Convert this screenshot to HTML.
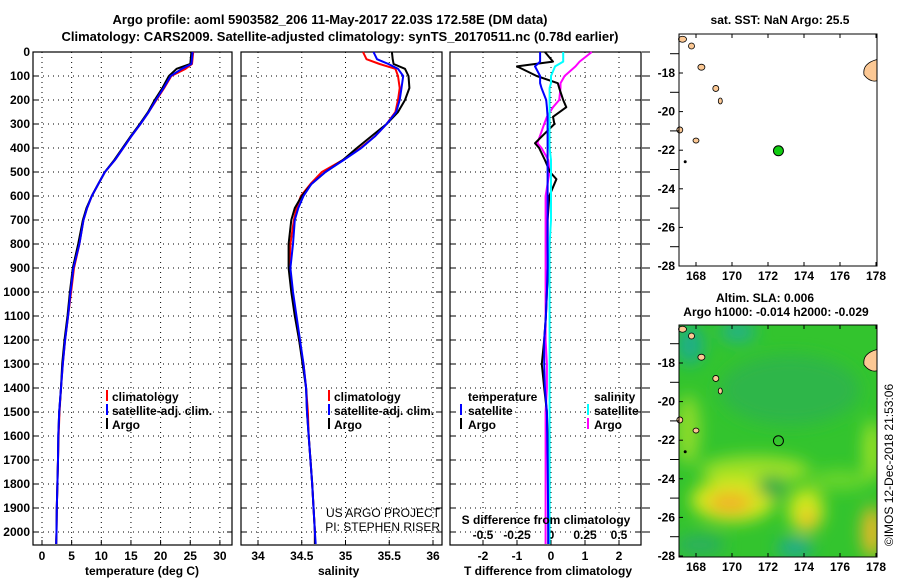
<!DOCTYPE html>
<html><head><meta charset="utf-8"><style>
body{margin:0;background:#fff;width:900px;height:580px;overflow:hidden}
svg{display:block;font-family:"Liberation Sans",sans-serif}
.b{font-weight:bold;font-size:12px}
.t{font-weight:bold;font-size:13px}
</style></head><body>
<svg id="chart" width="900" height="580" viewBox="0 0 900 580">
<defs>
<filter id="blur" x="-20%" y="-20%" width="140%" height="140%"><feGaussianBlur stdDeviation="8"/></filter>
<clipPath id="clipSla"><rect x="679" y="325" width="198" height="232"/></clipPath>
</defs>
<text class="t" x="330" y="24" text-anchor="middle">Argo profile: aoml 5903582_206 11-May-2017 22.03S 172.58E (DM data)</text>
<text class="t" x="340" y="41" text-anchor="middle">Climatology: CARS2009. Satellite-adjusted climatology: synTS_20170511.nc (0.78d earlier)</text>
<g id="grids"></g>
<g id="series"></g>
<g id="legends">
 <g>
  <rect x="106" y="390" width="2" height="11" fill="#f00"/><text class="b" x="112" y="401">climatology</text>
  <rect x="106" y="404" width="2" height="11" fill="#00f"/><text class="b" x="112" y="415">satellite-adj. clim.</text>
  <rect x="106" y="418" width="2" height="11" fill="#000"/><text class="b" x="112" y="429">Argo</text>
 </g>
 <g>
  <rect x="328" y="390" width="2" height="11" fill="#f00"/><text class="b" x="334" y="401">climatology</text>
  <rect x="328" y="404" width="2" height="11" fill="#00f"/><text class="b" x="334" y="415">satellite-adj. clim.</text>
  <rect x="328" y="418" width="2" height="11" fill="#000"/><text class="b" x="334" y="429">Argo</text>
 </g>
 <g>
  <text class="b" x="468" y="401">temperature</text>
  <rect x="460" y="404" width="2" height="11" fill="#00f"/><text class="b" x="468" y="415">satellite</text>
  <rect x="460" y="418" width="2" height="11" fill="#000"/><text class="b" x="468" y="429">Argo</text>
  <text class="b" x="594" y="401">salinity</text>
  <rect x="587" y="404" width="2" height="11" fill="#0ff"/><text class="b" x="594" y="415">satellite</text>
  <rect x="587" y="418" width="2" height="11" fill="#f0f"/><text class="b" x="594" y="429">Argo</text>
 </g>
 <text x="440" y="517" font-size="12" text-anchor="end">US ARGO PROJECT</text>
 <text x="440" y="531" font-size="12" text-anchor="end">PI: STEPHEN RISER</text>
 <text class="b" x="546" y="524" text-anchor="middle">S difference from climatology</text>
 <text class="b" x="85" y="575">temperature (deg C)</text>
 <text class="b" x="318" y="575">salinity</text>
 <text class="b" x="548" y="575" text-anchor="middle">T difference from climatology</text>
</g>
<g id="maps"></g>
</svg>
<script>
const NS='http://www.w3.org/2000/svg';
const svg=document.getElementById('chart');
function el(tag,attrs,parent,txt){const e=document.createElementNS(NS,tag);for(const k in attrs)e.setAttribute(k,attrs[k]);if(txt!==undefined)e.textContent=txt;(parent||svg).appendChild(e);return e;}

// ---------- data ----------
const depthTicks=[0,100,200,300,400,500,600,700,800,900,1000,1100,1200,1300,1400,1500,1600,1700,1800,1900,2000];
const tempTicks=[0,5,10,15,20,25,30];
const salTicks=[34,34.5,35,35.5,36];
const tdiffTicks=[-2,-1,0,1,2];
const sdiffTicks=[-0.5,-0.25,0,0.25,0.5];
const sdiffTickLabels=['-0.5','-0.25','0','0.25','0.5'];

const tDepth=[0,50,70,100,150,200,250,300,350,400,450,500,550,600,650,700,800,900,1000,1100,1200,1300,1400,1500,1600,1700,1800,1900,2000,2050];
const tArgo=[25.2,25.0,22.7,21.4,20.3,19.0,17.9,16.5,15.0,13.6,12.2,10.6,9.5,8.4,7.5,6.9,6.1,5.2,4.7,4.3,3.8,3.4,3.2,2.9,2.75,2.7,2.6,2.5,2.45,2.4];
const tClim=[25.5,25.3,24.2,21.8,20.6,19.3,18.0,16.6,15.1,13.7,12.3,10.6,9.5,8.4,7.6,7.0,6.3,5.4,4.9,4.4,3.9,3.5,3.2,2.95,2.8,2.7,2.6,2.5,2.45,2.4];
const tSat=[25.4,25.2,23.6,21.7,20.5,19.2,18.0,16.6,15.1,13.7,12.3,10.6,9.5,8.4,7.6,7.0,6.3,5.3,4.8,4.4,3.9,3.5,3.2,2.9,2.75,2.7,2.6,2.5,2.45,2.4];

const sDepth=[0,30,50,70,100,150,200,250,300,350,400,450,500,550,600,650,700,800,900,1000,1100,1200,1300,1400,1500,1600,1800,2000,2050];
const sArgo=[35.53,35.54,35.55,35.68,35.72,35.73,35.68,35.60,35.47,35.30,35.13,34.97,34.77,34.61,34.50,34.42,34.38,34.35,34.35,34.38,34.42,34.47,34.51,34.55,34.56,34.58,34.62,34.65,34.65];
const sClim=[35.20,35.24,35.39,35.57,35.60,35.62,35.60,35.57,35.47,35.34,35.17,34.97,34.73,34.60,34.49,34.44,34.41,34.37,34.36,34.39,34.43,34.47,34.52,34.55,34.57,34.58,34.62,34.65,34.65];
const sSat=[35.32,35.36,35.49,35.60,35.66,35.64,35.62,35.58,35.47,35.34,35.18,34.98,34.77,34.61,34.52,34.46,34.42,34.40,34.37,34.40,34.44,34.48,34.52,34.55,34.56,34.58,34.62,34.65,34.66];

const dDepth=[0,40,60,100,130,150,200,230,270,300,380,400,450,500,530,600,700,800,900,1000,1100,1200,1300,1400,1500,1700,2000,2050];
const dTArgo=[-0.18,0.06,-1.0,-0.42,0.2,0.24,0.36,0.45,0.06,0.1,-0.47,-0.35,-0.18,-0.03,0.16,-0.05,-0.1,-0.1,-0.08,-0.12,-0.15,-0.2,-0.27,-0.2,-0.12,-0.08,-0.08,-0.08];
const dTSat=[-0.32,-0.32,-0.47,-0.32,-0.32,-0.28,-0.14,-0.12,-0.1,-0.1,-0.1,-0.1,-0.1,-0.1,-0.1,-0.1,-0.1,-0.1,-0.1,-0.12,-0.15,-0.2,-0.2,-0.18,-0.12,-0.1,-0.08,-0.08];
const dSSat=[0.09,0.09,0.03,0.0,0.0,-0.01,-0.01,-0.01,-0.01,-0.01,-0.01,-0.01,0.0,0.0,0.0,0.0,0.0,-0.01,-0.01,-0.01,-0.01,-0.01,-0.01,-0.01,-0.01,-0.01,-0.01,-0.01];
const dSArgo=[0.30,0.21,0.18,0.10,0.07,0.07,0.06,0.015,-0.03,-0.05,-0.1,-0.07,-0.02,-0.01,-0.02,-0.04,-0.04,-0.04,-0.04,-0.04,-0.04,-0.04,-0.03,-0.03,-0.04,-0.04,-0.04,-0.04];

// ---------- axes ----------
const yD=d=>52+d*0.24;
const xT=t=>42+t*5.93;
const xS=s=>258+(s-34)*87.5;
const xdT=t=>551+t*34;
const xdS=s=>551+s*136;
const panels=[{x0:33,x1:232,ticks:tempTicks,fx:xT,name:'temperature'},{x0:241,x1:442,ticks:salTicks,fx:xS,name:'salinity'},{x0:450,x1:641,ticks:tdiffTicks,fx:xdT,name:'difference'}];
const top0=52,bot=545;
const g=document.getElementById('grids');
panels.forEach((p,pi)=>{
  const pg=el('g',{},g);
  
  
  depthTicks.forEach(d=>{el('line',{x1:p.x0,x2:p.x1,y1:yD(d),y2:yD(d),stroke:'#000','stroke-width':1,'stroke-dasharray':'1 4'},pg);
    el('line',{x1:p.x0,x2:p.x0+5,y1:yD(d),y2:yD(d),stroke:'#000'},pg);el('line',{x1:p.x1-5,x2:p.x1,y1:yD(d),y2:yD(d),stroke:'#000'},pg);});
  p.ticks.forEach((t,i)=>{const x=p.fx(t);el('line',{x1:x,x2:x,y1:top0,y2:bot,stroke:'#000','stroke-dasharray':'1 4'},pg);
    el('line',{x1:x,x2:x,y1:bot,y2:bot-5,stroke:'#000'},pg);
    const lab=el('text',{class:'b',x:x,y:560,'text-anchor':'middle'},pg,String(t));
    
    });
  el('rect',{x:p.x0,y:top0,width:p.x1-p.x0,height:bot-top0,fill:'none',stroke:'#000','stroke-width':1.2},pg);
});
depthTicks.forEach(d=>{const t=el('text',{class:'b',x:30,y:yD(d)+4,'text-anchor':'end'},g,String(d));
  
  
  el('line',{x1:642,x2:650,y1:yD(d),y2:yD(d),stroke:'#000'},g);});
sdiffTicks.forEach((s,i)=>{const t=el('text',{class:'b',x:xdS(s),y:539,'text-anchor':'middle'},g,sdiffTickLabels[i]);
  
  });

// ---------- series ----------
const sg=document.getElementById('series');
function line(xs,ds,fx,color,name){
  const pts=xs.map((v,i)=>fx(v).toFixed(1)+','+yD(ds[i]).toFixed(1)).join(' ');
  const pl=el('polyline',{points:pts,fill:'none',stroke:color,'stroke-width':2,'stroke-linejoin':'round'},sg);
  
  
}
line(tClim,tDepth,xT,'#f00','temp-climatology-line');
line(tArgo,tDepth,xT,'#000','temp-argo-line');
line(tSat,tDepth,xT,'#00f','temp-satellite-line');
line(sClim,sDepth,xS,'#f00','sal-climatology-line');
line(sArgo,sDepth,xS,'#000','sal-argo-line');
line(sSat,sDepth,xS,'#00f','sal-satellite-line');
line(dSArgo,dDepth,xdS,'#f0f','s-diff-argo-line');
line(dTArgo,dDepth,xdT,'#000','t-diff-argo-line');
line(dSSat,dDepth,xdS,'#0ff','s-diff-satellite-line');
line(dTSat,dDepth,xdT,'#00f','t-diff-satellite-line');

// ---------- maps ----------
const lonTicks=[168,170,172,174,176,178];
const latTicks=[-18,-20,-22,-24,-26,-28];
const mg=document.getElementById('maps');
const lonX=l=>696+(l-168)*18;
function drawMap(y18,top,bottom,name,sla){
  const m=el('g',{},mg);
  
  
  const latY=l=>y18+(-18-l)*19.3;
  if(sla){
    const h=el('g',{'clip-path':'url(#clipSla)'},m);
    el('rect',{x:679,y:top,width:198,height:bottom-top,fill:'#33c42e'},h);
    const bl=el('g',{filter:'url(#blur)'},h);
    [[790,390,70,35,'#2eb64a'],[690,345,14,20,'#1fae88'],[738,332,18,10,'#22b08c'],[795,548,18,10,'#22aa90'],[700,545,25,10,'#2aae60'],
     [688,430,12,35,'#8edc2a'],[755,470,55,14,'#9ee026'],[733,500,42,22,'#d6e81e'],[730,503,22,11,'#f0b426'],
     [806,510,18,22,'#cde81e'],[808,520,9,10,'#f0c02a'],[872,532,10,26,'#f0b828'],[872,450,8,30,'#a8e426'],[772,487,14,11,'#2aa848'],[840,480,30,10,'#6ad62a']]
     .forEach(c=>el('ellipse',{cx:c[0],cy:c[1],rx:c[2],ry:c[3],fill:c[4]},bl));
  }
  const isl=[[167.25,-16.25,4,3],[167.75,-16.6,3,3],[168.3,-17.7,3.5,3],[169.1,-18.8,3,3],[169.35,-19.45,2,3],[167.1,-20.95,3,3],[168.0,-21.5,3,2.5]];
  isl.forEach(c=>el('ellipse',{cx:lonX(c[0]),cy:latY(c[1]),rx:c[2],ry:c[3],fill:'#fcc894',stroke:'#000','stroke-width':0.8},m));
  el('path',{d:`M877 ${latY(-17.3)} Q862 ${latY(-17.5)} 864 ${latY(-18.1)} Q870 ${latY(-18.5)} 877 ${latY(-18.4)} Z`,fill:'#fcc894',stroke:'#000','stroke-width':0.8},m);
  el('circle',{cx:lonX(167.4),cy:latY(-22.6),r:1.5,fill:'#000'},m);
  el('rect',{x:679,y:top,width:198,height:bottom-top,fill:'none',stroke:'#000'},m);
  lonTicks.forEach(l=>{el('line',{x1:lonX(l),x2:lonX(l),y1:bottom,y2:bottom-4,stroke:'#000'},m);el('line',{x1:lonX(l),x2:lonX(l),y1:top,y2:top+4,stroke:'#000'},m);
    const t=el('text',{class:'b',x:lonX(l),y:bottom+14,'text-anchor':'middle'},m,String(l));
    
    });
  latTicks.forEach(l=>{el('line',{x1:679,x2:683,y1:latY(l),y2:latY(l),stroke:'#000'},m);
    const t=el('text',{class:'b',x:675,y:latY(l)+4,'text-anchor':'end'},m,String(l));
    
    });
  [-17,-19,-21,-23,-25,-27].forEach(l=>el('line',{x1:670,x2:679,y1:latY(l),y2:latY(l),stroke:'#000'},m));
  return latY;
}
const latTop=drawMap(73,34,266,'sst-map',false);
const dot=el('circle',{cx:lonX(172.58),cy:latTop(-22.03),r:5,fill:'#1c1',stroke:'#000'},mg);


const latBot=drawMap(363,325,557,'sla-map',true);
const ring=el('circle',{cx:lonX(172.58),cy:latBot(-22.03),r:5,fill:'none',stroke:'#000'},mg);


const tx=[['sat. SST: NaN Argo: 25.5',780,24,'sst-map-title'],['Altim. SLA: 0.006',765,302,'sla-title'],['Argo h1000: -0.014 h2000: -0.029',776,316,'argo-height-title']];
tx.forEach(a=>{const t=el('text',{class:'b',x:a[1],y:a[2],'text-anchor':'middle'},mg,a[0]);
  
  });
const cr=el('text',{x:0,y:0,'font-size':'12','text-anchor':'middle',transform:'translate(893,465) rotate(-90)'},mg,'©IMOS 12-Dec-2018 21:53:06');


</script>
</body></html>
